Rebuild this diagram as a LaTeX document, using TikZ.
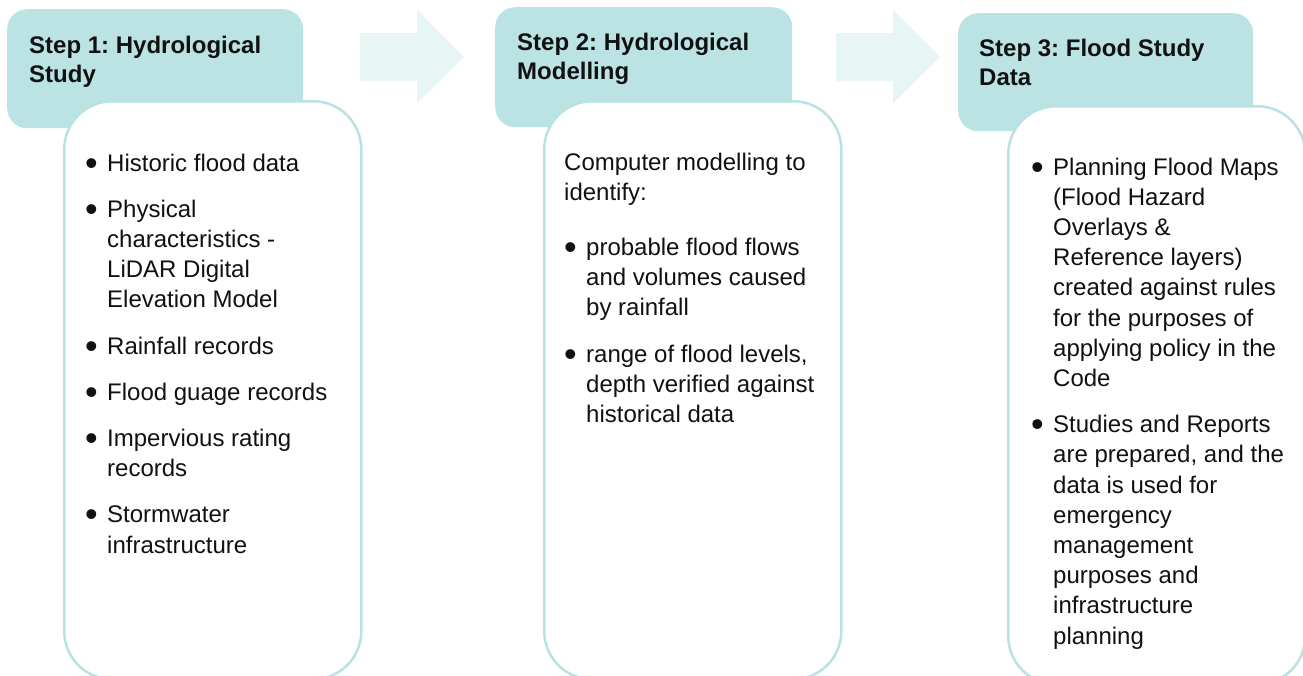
\documentclass[tikz,border=0pt]{standalone}
\usepackage{fontspec}
\setmainfont{Liberation Sans}
\definecolor{hdrfill}{HTML}{BCE3E4}
\definecolor{bordcol}{HTML}{B9E2E4}
\definecolor{arrfill}{HTML}{E8F5F5}
\definecolor{txtcol}{HTML}{111111}
\frenchspacing
\newcommand\bigbul{\raisebox{-4pt}{\fontsize{36}{10}\selectfont\textbullet}}
\newcommand\bulpar[1]{\par\hangindent=22pt\hangafter=1\noindent\makebox[22pt][l]{\bigbul}#1\par}
\newcommand\bodyfont{\fontsize{24}{30.2}\selectfont\parskip=16pt\relax}
\tikzset{
  hdrbox/.style={draw=none, fill=hdrfill, rounded corners=20pt, inner sep=0pt, anchor=north west},
  bodybox/.style={draw=bordcol, line width=2.5pt, fill=white, rounded corners=48pt, inner sep=0pt, anchor=north west, minimum width=297pt, minimum height=578pt},
  hdrtext/.style={anchor=base west, inner sep=0pt, text=txtcol, font=\fontsize{24}{29.5}\selectfont\bfseries, align=left},
  bodytext/.style={anchor=base west, inner sep=0pt, text=txtcol},
  blockarrow/.style={fill=arrfill, draw=none},
}
\begin{document}
\begin{tikzpicture}[x=1pt,y=-1pt]
\useasboundingbox (0,0) rectangle (1303,675);
\clip (0,0) rectangle (1303,675);
\fill[white] (0,0) rectangle (1303,675);

% block arrows
\fill[blockarrow] (360,33) -- (417,33) -- (417,10) -- (464,57) -- (417,103) -- (417,81) -- (360,81) -- cycle;
\fill[blockarrow] (836,33) -- (893,33) -- (893,10) -- (940,57) -- (893,103) -- (893,81) -- (836,81) -- cycle;

% header boxes
\node[hdrbox, minimum width=296pt, minimum height=119pt] (h1) at (7,9) {};
\node[hdrbox, minimum width=297pt, minimum height=120pt] (h2) at (495,7) {};
\node[hdrbox, minimum width=295pt, minimum height=118pt] (h3) at (958,13) {};

% header texts (base anchor = baseline of the last line)
\node[hdrtext] (h1t) at (29,82.5) {Step 1: Hydrological\\Study};
\node[hdrtext] (h2t) at (517,79.5) {Step 2: Hydrological\\Modelling};
\node[hdrtext] (h3t) at (979,85.5) {Step 3: Flood Study\\Data};

% body boxes
\node[bodybox] (b1) at (63,100) {};
\node[bodybox] (b2) at (543,100) {};
\node[bodybox] (b3) at (1007,105) {};

% body texts
\node[bodytext] (b1t) at (85,171) {\begin{minipage}[t]{270pt}\bodyfont
\bulpar{Historic flood data}
\bulpar{Physical\\characteristics -\\LiDAR Digital\\Elevation Model}
\bulpar{Rainfall records}
\bulpar{Flood guage records}
\bulpar{Impervious rating\\records}
\bulpar{Stormwater\\infrastructure}
\end{minipage}};

\node[bodytext] (b2t) at (564,170) {\begin{minipage}[t]{270pt}\bodyfont
\noindent Computer modelling to\\identify:\par
\vspace{9pt}
\bulpar{probable flood flows\\and volumes caused\\by rainfall}
\bulpar{range of flood levels,\\depth verified against\\historical data}
\end{minipage}};

\node[bodytext] (b3t) at (1031,175) {\begin{minipage}[t]{270pt}\bodyfont
\bulpar{Planning Flood Maps\\(Flood Hazard\\Overlays \&\\Reference layers)\\created against rules\\for the purposes of\\applying policy in the\\Code}
\bulpar{Studies and Reports\\are prepared, and the\\data is used for\\emergency\\management\\purposes and\\infrastructure\\planning}
\end{minipage}};
\end{tikzpicture}
\end{document}
